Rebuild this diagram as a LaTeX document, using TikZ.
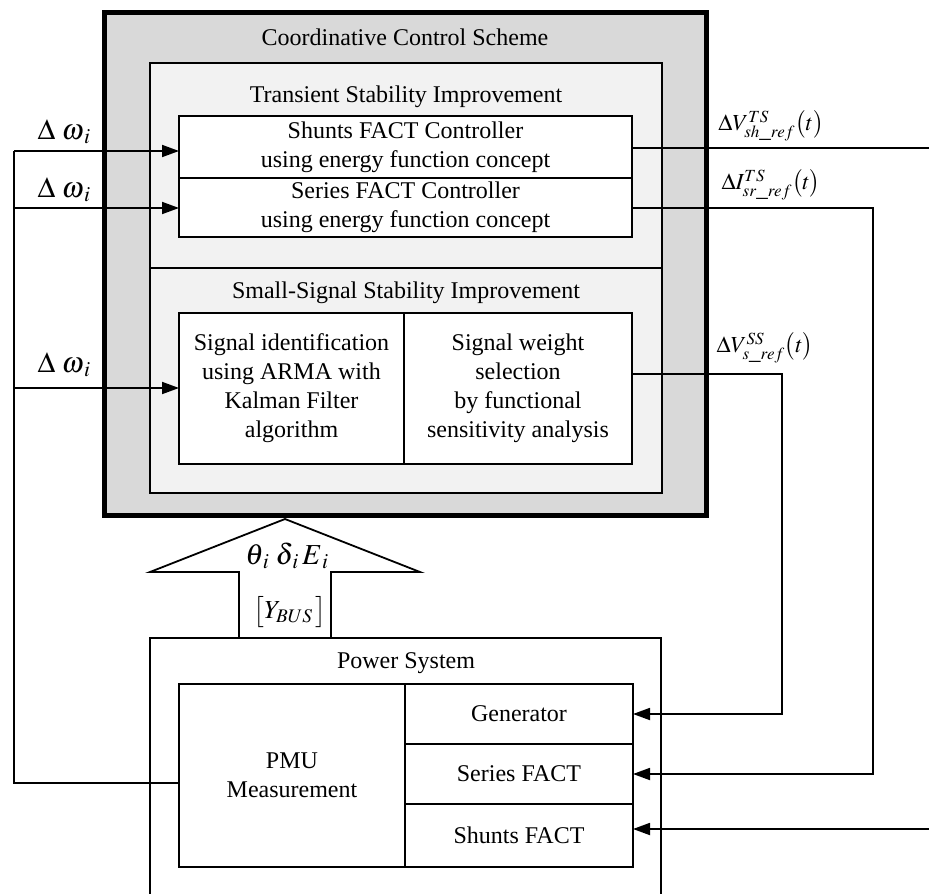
\documentclass[tikz,border=0pt]{standalone}
\usepackage{mathptmx}
\usepackage{fontspec}
\setmainfont{Liberation Serif}
\usetikzlibrary{arrows.meta}
\definecolor{outerfill}{HTML}{D9D9D9}
\definecolor{innerfill}{HTML}{F2F2F2}
\newcommand\bx[7]{\node[#6, anchor=north west, minimum width={#4-#2}, minimum height={#5-#3}] (#1) at (#2,#3) {#7};}
\begin{document}
\begin{tikzpicture}[x=1pt,y=-1pt,
  every node/.style={font=\fontsize{24}{29}\selectfont, inner sep=0pt, outer sep=0pt, align=center},
  boxst/.style={draw, line width=1.8pt, fill=white},
  ln/.style={line width=1.8pt},
  arr/.style={line width=1.8pt, -{Triangle[length=17pt,width=12pt]}},
  mlab/.style={font=\fontsize{26}{30}\selectfont},
  wlab/.style={font=\fontsize{29}{32}\selectfont},
  rlab/.style={font=\fontsize{23}{28}\selectfont}]
\clip (0,0) rectangle (929,894);
% outer box
\bx{outer}{104}{12}{706}{515}{draw, line width=5pt, fill=outerfill}{}
\node (tcc) at (405,37) {Coordinative Control Scheme};
% inner boxes
\bx{ts}{150}{63}{662}{268}{boxst, fill=innerfill}{}
\bx{ss}{150}{268}{662}{493}{boxst, fill=innerfill}{}
\node (tts) at (406,97) {Transient Stability Improvement};
\node (tss) at (406,293) {Small-Signal Stability Improvement};
\bx{shctrl}{179}{116}{632}{178}{boxst}{Shunts FACT Controller\\using energy function concept}
\bx{serctrl}{179}{178}{632}{237}{boxst}{Series FACT Controller\\using energy function concept}
\bx{sigid}{179}{313}{404}{464}{boxst}{Signal identification\\using ARMA with\\Kalman Filter\\algorithm}
\bx{sigw}{404}{313}{632}{464}{boxst}{Signal weight\\selection\\by functional\\sensitivity analysis}
% power system
\bx{pwr}{150}{638}{661}{910}{boxst}{}
\node (tpw) at (406,663) {Power System};
\bx{pmu}{179}{684}{405}{867}{boxst}{PMU\\Measurement}
\bx{gen}{405}{684}{633}{744}{boxst}{Generator}
\bx{serf}{405}{744}{633}{804}{boxst}{Series FACT}
\bx{shf}{405}{804}{633}{867}{boxst}{Shunts FACT}
% big arrow
\draw[ln, fill=white, line join=miter] (285,519) -- (420,572) -- (331,572) -- (331,638) -- (239,638) -- (239,572) -- (150,572) -- cycle;
\node[wlab] (th) at (287,556) {$\theta_{\,i}\;\delta_{\,i}\,E_{\,i}$};
\node[mlab] (yb) at (290,612) {$\big[Y_{BUS}\,\big]$};
% feedback left
\coordinate (pmuo) at (179,783);
\coordinate (fb1) at (14,151);
\coordinate (fb2) at (14,208);
\coordinate (fb3) at (14,388);
\draw[ln] (pmuo) -| (fb1);
\draw[arr] (fb1) -- (shctrl.west |- fb1);
\draw[arr] (fb2) -- (serctrl.west |- fb2);
\draw[arr] (fb3) -- (sigid.west |- fb3);
\node[wlab] (w1) at (64,132) {$\Delta\;\omega_{\,i}$};
\node[wlab] (w2) at (64,190) {$\Delta\;\omega_{\,i}$};
\node[wlab] (w3) at (64,365) {$\Delta\;\omega_{\,i}$};
% outputs right
\coordinate (o1) at (929,148);
\draw[ln] (shctrl.east |- o1) -- (o1);
\coordinate (s2) at (632,208);
\coordinate (c2) at (873,774);
\draw[arr] (s2) -| (c2) -- (serf.east);
\coordinate (s3) at (632,374);
\coordinate (c3) at (782,714);
\draw[arr] (s3) -| (c3) -- (gen.east);
\coordinate (i4) at (929,829);
\draw[arr] (i4) -- (shf.east |- i4);
\node[rlab] (l1) at (771,126) {$\Delta V^{TS}_{sh\_ref}\bigl(t\bigr)$};
\node[rlab] (l2) at (771,185) {$\Delta I^{TS}_{sr\_ref}\bigl(t\bigr)$};
\node[rlab] (l3) at (765,348) {$\Delta V^{SS}_{s\_ref}\bigl(t\bigr)$};
\end{tikzpicture}
\end{document}
